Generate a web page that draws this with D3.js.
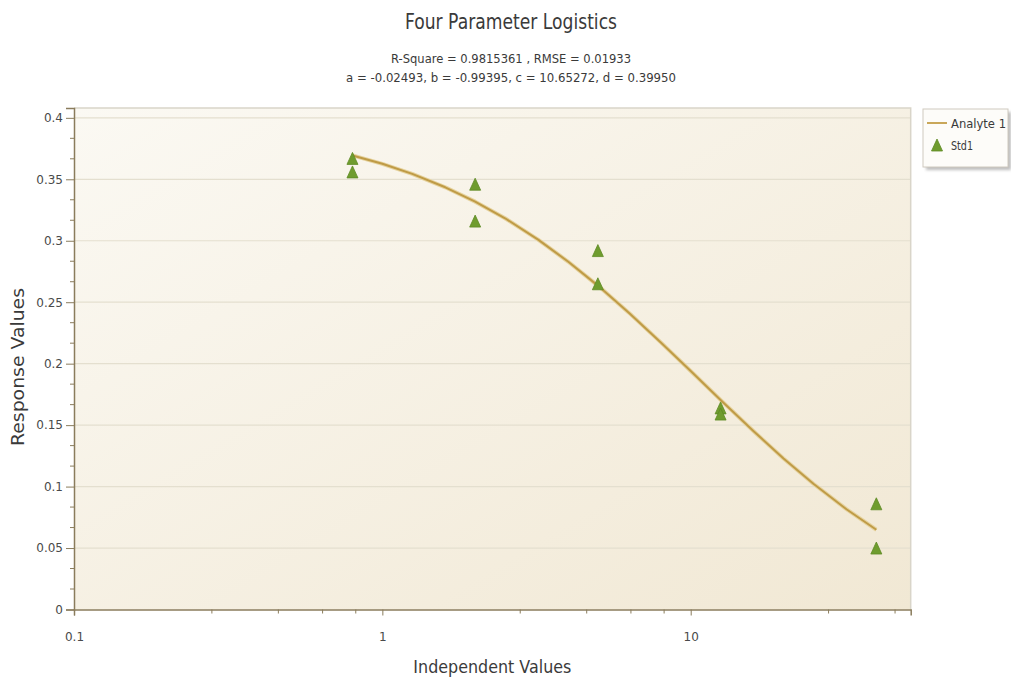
<!DOCTYPE html>
<html>
<head>
<meta charset="utf-8">
<script src="https://cdn.jsdelivr.net/npm/d3@7"></script>
<style>
  html, body { margin: 0; padding: 0; background: #ffffff; }
  svg { display: block; }
  text { font-family: "DejaVu Sans", Verdana, sans-serif; }
</style>
</head>
<body>
<svg id="chart" width="1011" height="681"></svg>
<script>
// Standards (Std1): concentration and measured response
const stdX = [0.8, 0.8, 2, 2, 5, 5, 12.5, 12.5, 40, 40];
const stdY = [0.367, 0.356, 0.346, 0.316, 0.292, 0.265, 0.164, 0.159, 0.086, 0.050];

// Fitted curve (Analyte 1), sampled along the concentration range
const curveX = [0.8, 1, 1.25, 1.6, 2, 2.5, 3.2, 4, 5, 6.3, 8, 10, 12.5, 16, 20, 25, 32, 40];
const curveY = [0.3694, 0.3626, 0.3544, 0.3435, 0.3318, 0.3183, 0.3009, 0.2831, 0.2635, 0.2415,
                0.2173, 0.1940, 0.1705, 0.1450, 0.1229, 0.1023, 0.0816, 0.0649];

// Axis ticks
const xMajorTicks = [0.1, 1, 10];
const xMajorLabels = ["0.1", "1", "10"];
const xMinorTicks = [0.28, 0.46, 0.64, 0.82, 2.8, 4.6, 6.4, 8.2, 28, 46];
const yMajorTicks = [0, 0.05, 0.1, 0.15, 0.2, 0.25, 0.3, 0.35, 0.4];
const yMajorLabels = ["0", "0.05", "0.1", "0.15", "0.2", "0.25", "0.3", "0.35", "0.4"];

const titleText = "Four Parameter Logistics";
const statsLine1 = "R-Square = 0.9815361 , RMSE = 0.01933";
const statsLine2 = "a = -0.02493, b = -0.99395, c = 10.65272, d = 0.39950";
const seriesNames = ["Analyte 1", "Std1"];

const svg = d3.select("#chart");

const plot = { left: 74, right: 910.7, top: 108, bottom: 609.5 };

const x = d3.scaleLog().domain([0.1, 51.7]).range([plot.left, plot.right]);
const y = d3.scaleLinear().domain([0, 0.408]).range([plot.bottom, plot.top]);

const axisColor = "#8a7c5c";
const labelColor = "#4a4a4a";

// Plot background gradient
const defs = svg.append("defs");
const grad = defs.append("linearGradient").attr("id", "bg")
  .attr("x1", "0").attr("y1", "0").attr("x2", "1").attr("y2", "1");
grad.append("stop").attr("offset", "0%").attr("stop-color", "#fbf9f3");
grad.append("stop").attr("offset", "100%").attr("stop-color", "#f1e8d4");

const shadow = defs.append("filter").attr("id", "shadow")
  .attr("x", "-20%").attr("y", "-20%").attr("width", "150%").attr("height", "150%");
shadow.append("feGaussianBlur").attr("stdDeviation", 1.5);

svg.append("rect")
  .attr("x", plot.left).attr("y", plot.top)
  .attr("width", plot.right - plot.left).attr("height", plot.bottom - plot.top)
  .attr("fill", "url(#bg)");

// Horizontal gridlines
svg.append("g").selectAll("line")
  .data(yMajorTicks.slice(1))
  .join("line")
  .attr("x1", plot.left).attr("x2", plot.right)
  .attr("y1", d => y(d)).attr("y2", d => y(d))
  .attr("stroke", "#e4dfcf").attr("stroke-width", 1.2);

// Top and right frame
svg.append("path")
  .attr("d", `M${plot.left},${plot.top}H${plot.right}V${plot.bottom}`)
  .attr("fill", "none").attr("stroke", "#d9d5c9").attr("stroke-width", 1.5);

// Y axis
const yAxis = d3.axisLeft(y)
  .tickValues(yMajorTicks)
  .tickFormat((d, i) => yMajorLabels[i])
  .tickSize(8).tickPadding(3);
const gy = svg.append("g").attr("transform", `translate(${plot.left},0)`).call(yAxis);
gy.select(".domain").attr("stroke", axisColor).attr("stroke-width", 1.5);
gy.selectAll(".tick line").attr("stroke", axisColor);
gy.selectAll(".tick text").attr("fill", labelColor).attr("font-size", 12)
  .attr("font-family", "DejaVu Sans, sans-serif");

const yMinor = [];
yMajorTicks.slice(0, -1).forEach(v => { yMinor.push(v + 0.05 / 3, v + 0.1 / 3); });
svg.append("g").selectAll("line").data(yMinor).join("line")
  .attr("x1", plot.left - 4).attr("x2", plot.left)
  .attr("y1", d => y(d)).attr("y2", d => y(d))
  .attr("stroke", axisColor);

// X axis
const xAxis = d3.axisBottom(x)
  .tickValues(xMajorTicks)
  .tickFormat((d, i) => xMajorLabels[i])
  .tickSize(6).tickPadding(17);
const gx = svg.append("g").attr("transform", `translate(0,${plot.bottom})`).call(xAxis);
gx.select(".domain").attr("stroke", axisColor).attr("stroke-width", 1.5);
gx.selectAll(".tick line").attr("stroke", axisColor);
gx.selectAll(".tick text").attr("fill", labelColor).attr("font-size", 12)
  .attr("font-family", "DejaVu Sans, sans-serif");

svg.append("g").selectAll("line").data(xMinorTicks).join("line")
  .attr("x1", d => x(d)).attr("x2", d => x(d))
  .attr("y1", plot.bottom).attr("y2", plot.bottom + 4)
  .attr("stroke", axisColor);

// Fitted curve
const line = d3.line().x((d, i) => x(curveX[i])).y(d => y(d));
svg.append("path").datum(curveY)
  .attr("d", line).attr("fill", "none")
  .attr("stroke", "#e6d39f").attr("stroke-width", 4).attr("stroke-linejoin", "round");
svg.append("path").datum(curveY)
  .attr("d", line).attr("fill", "none")
  .attr("stroke", "#bf9b46").attr("stroke-width", 2).attr("stroke-linejoin", "round");

// Triangle markers centred on their bounding box
const triW = 11, triH = 12;
function triangle(cx, cy) {
  return `M${cx},${cy - triH / 2}L${cx + triW / 2},${cy + triH / 2}L${cx - triW / 2},${cy + triH / 2}Z`;
}
svg.append("g").selectAll("path")
  .data(stdY)
  .join("path")
  .attr("d", (d, i) => triangle(x(stdX[i]), y(d)))
  .attr("fill", "#6f9c2e").attr("stroke", "#5e8a24").attr("stroke-width", 0.8);

// Titles
svg.append("text")
  .attr("x", 511).attr("y", 29).attr("text-anchor", "middle")
  .attr("font-size", 21).attr("fill", "#3a3a3a")
  .attr("textLength", 212).attr("lengthAdjust", "spacingAndGlyphs")
  .text(titleText);
svg.append("text")
  .attr("x", 511).attr("y", 63).attr("text-anchor", "middle")
  .attr("font-size", 13).attr("fill", "#3a3a3a")
  .attr("textLength", 240).attr("lengthAdjust", "spacingAndGlyphs")
  .text(statsLine1);
svg.append("text")
  .attr("x", 511).attr("y", 82).attr("text-anchor", "middle")
  .attr("font-size", 13).attr("fill", "#3a3a3a")
  .attr("textLength", 330).attr("lengthAdjust", "spacingAndGlyphs")
  .text(statsLine2);

// Axis titles
svg.append("text")
  .attr("x", (plot.left + plot.right) / 2).attr("y", 673).attr("text-anchor", "middle")
  .attr("font-size", 18).attr("fill", "#3a3a3a")
  .attr("textLength", 158).attr("lengthAdjust", "spacingAndGlyphs")
  .text("Independent Values");
svg.append("text")
  .attr("transform", `translate(24,367) rotate(-90)`)
  .attr("text-anchor", "middle")
  .attr("font-size", 18).attr("fill", "#3a3a3a")
  .attr("textLength", 158).attr("lengthAdjust", "spacingAndGlyphs")
  .text("Response Values");

// Legend
const lg = svg.append("g").attr("transform", "translate(923,109)");
lg.append("rect").attr("x", 3).attr("y", 3).attr("width", 85).attr("height", 58)
  .attr("fill", "#bdbdbd").attr("filter", "url(#shadow)");
lg.append("rect").attr("width", 85).attr("height", 58)
  .attr("fill", "#fdfcf9").attr("stroke", "#cfcabf");
lg.append("line").attr("x1", 4).attr("x2", 24).attr("y1", 14).attr("y2", 14)
  .attr("stroke", "#c9a75a").attr("stroke-width", 2);
lg.append("text").attr("x", 28).attr("y", 18.5)
  .attr("font-size", 12).attr("fill", "#3a3a3a")
  .attr("textLength", 55).attr("lengthAdjust", "spacingAndGlyphs")
  .text(seriesNames[0]);
lg.append("path").attr("d", triangle(14, 36))
  .attr("fill", "#6f9c2e").attr("stroke", "#5e8a24").attr("stroke-width", 0.8);
lg.append("text").attr("x", 28).attr("y", 40.5)
  .attr("font-size", 12).attr("fill", "#3a3a3a")
  .attr("textLength", 22).attr("lengthAdjust", "spacingAndGlyphs")
  .text(seriesNames[1]);
</script>
</body>
</html>
